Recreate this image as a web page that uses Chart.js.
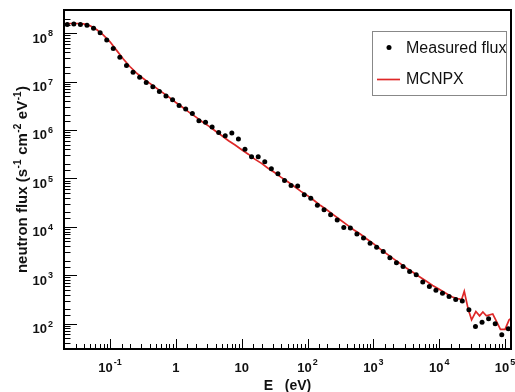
<!DOCTYPE html>
<html>
<head>
<meta charset="utf-8">
<title>neutron flux</title>
<script src="https://cdn.jsdelivr.net/npm/chart.js@4.4.0/dist/chart.umd.min.js"></script>
<style>
  html, body { margin: 0; padding: 0; background: #fff; }
  #wrap { width: 515px; height: 392px; }
</style>
</head>
<body>
<div id="wrap"><canvas id="fluxChart" width="515" height="392"></canvas></div>
<script>
// measured spectrum, E in eV, flux in s^-1 cm^-2 eV^-1
var measEnergy = [0.0224, 0.0282, 0.0355, 0.0447, 0.0562, 0.0708, 0.0891,
  0.112, 0.141, 0.178, 0.224, 0.282, 0.355, 0.447, 0.562, 0.708, 0.891,
  1.12, 1.41, 1.78, 2.24, 2.82, 3.55, 4.47, 5.62, 7.08, 8.91,
  11.2, 14.1, 17.8, 22.4, 28.2, 35.5, 44.7, 56.2, 70.8, 89.1,
  112, 141, 178, 224, 282, 355, 447, 562, 708, 891,
  1120, 1410, 1780, 2240, 2820, 3550, 4470, 5620, 7080, 8910,
  11200, 14100, 17800, 22400, 28200, 35500, 44700, 56200, 70800, 89100,
  112000];
var measFlux = [1.51e8, 1.55e8, 1.51e8, 1.46e8, 1.26e8, 1.02e8, 7.2e7,
  4.8e7, 3.16e7, 2.14e7, 1.55e7, 1.23e7, 9.5e6, 7.8e6, 6.2e6, 5.0e6, 4.2e6,
  3.2e6, 2.7e6, 2.2e6, 1.55e6, 1.45e6, 1.15e6, 8.9e5, 7.6e5, 8.7e5, 6.5e5,
  4.0e5, 2.8e5, 2.8e5, 2.2e5, 1.58e5, 1.24e5, 9.1e4, 7.1e4, 7.0e4, 4.6e4,
  3.9e4, 2.8e4, 2.24e4, 1.77e4, 1.39e4, 9.7e3, 9.4e3, 7.1e3, 5.9e3, 4.6e3,
  3.8e3, 3.1e3, 2.3e3, 1.82e3, 1.51e3, 1.2e3, 1.02e3, 724, 589, 490,
  427, 363, 316, 295, 195, 87, 107, 126, 100, 59,
  79];

// MCNPX simulation
var simEnergy = [0.02, 0.0251, 0.0316, 0.0398, 0.0501, 0.0631, 0.0794,
  0.1, 0.126, 0.158, 0.2, 0.251, 0.316, 0.398, 0.501, 0.631, 0.794,
  1, 1.26, 1.58, 2, 2.51, 3.16, 3.98, 5.01, 6.31, 7.94,
  10, 12.6, 15.8, 20, 25.1, 31.6, 39.8, 50.1, 63.1, 79.4,
  100, 126, 158, 200, 251, 316, 398, 501, 631, 794,
  1000, 1260, 1580, 2000, 2510, 3160, 3980, 5010, 6310, 7940,
  10000, 12600, 15800, 20000, 21900, 24000, 27500, 31000, 36000, 41000,
  46000, 52000, 65000, 74000, 85000, 100000, 115000, 128000];
var simFlux = [1.55e8, 1.58e8, 1.58e8, 1.55e8, 1.41e8, 1.17e8, 9.1e7,
  6.6e7, 4.4e7, 2.95e7, 2.04e7, 1.51e7, 1.17e7, 9.3e6, 7.4e6, 5.9e6, 4.7e6,
  3.7e6, 2.95e6, 2.34e6, 1.86e6, 1.48e6, 1.2e6, 9.5e5, 7.6e5, 6.0e5, 4.9e5,
  3.9e5, 3.16e5, 2.5e5, 2.04e5, 1.62e5, 1.32e5, 1.05e5, 8.5e4, 6.8e4, 5.4e4,
  4.4e4, 3.5e4, 2.75e4, 2.2e4, 1.74e4, 1.38e4, 1.1e4, 8.7e3, 7.1e3, 5.6e3,
  4.5e3, 3.5e3, 2.8e3, 2.2e3, 1.78e3, 1.41e3, 1.15e3, 933, 759, 617,
  513, 427, 355, 324, 316, 468, 200, 120, 178, 145,
  174, 145, 158, 112, 76, 76, 120, 132];

// axes (labels: text before ^ is the base, after ^ the exponent)
var xRange = [0.02, 1.23e5];
var yRange = [30, 3e8];
var xDecades = [-1, 0, 1, 2, 3, 4, 5];
var xTickText = ['10^-1', '1', '10', '10^2', '10^3', '10^4', '10^5'];
var yDecades = [2, 3, 4, 5, 6, 7, 8];
var yTickText = ['10^2', '10^3', '10^4', '10^5', '10^6', '10^7', '10^8'];
var yTitle = ['neutron flux (s', '-1', ' cm', '-2', ' eV', '-1', ')'];

var red = 'rgb(222, 40, 40)';
var fam = '"Liberation Sans", Arial, Helvetica, sans-serif';
Chart.defaults.font.family = fam;

function isDecade(v) {
  var l = Math.log10(v);
  return Math.abs(l - Math.round(l)) < 1e-6;
}

var measPts = measEnergy.map(function(e, i) { return { x: e, y: measFlux[i] }; });
var simPts = simEnergy.map(function(e, i) { return { x: e, y: simFlux[i] }; });

// ROOT style: ticks pointing inside, closed frame
var frameTicks = {
  id: 'frameTicks',
  afterDatasetsDraw: function(chart) {
    var ctx = chart.ctx, a = chart.chartArea;
    var sx = chart.scales.x, sy = chart.scales.y;
    ctx.save();
    ctx.strokeStyle = '#000';
    ctx.lineWidth = 1;
    sx.ticks.forEach(function(t) {
      var px = Math.round(sx.getPixelForValue(t.value)) + 0.5;
      if (px <= a.left + 1 || px >= a.right - 1) return;
      var len = isDecade(t.value) ? 10 : 5;
      ctx.beginPath(); ctx.moveTo(px, a.bottom); ctx.lineTo(px, a.bottom - len); ctx.stroke();
    });
    sy.ticks.forEach(function(t) {
      var py = Math.round(sy.getPixelForValue(t.value)) + 0.5;
      if (py <= a.top + 1 || py >= a.bottom - 1) return;
      var len = isDecade(t.value) ? 13 : 6.5;
      ctx.beginPath(); ctx.moveTo(a.left, py); ctx.lineTo(a.left + len, py); ctx.stroke();
    });
    ctx.lineWidth = 2;
    ctx.strokeRect(a.left, a.top, a.right - a.left, a.bottom - a.top);
    ctx.restore();
  }
};

// "10^n" with a raised exponent
function drawPower(ctx, label, x, y, align, raise) {
  var parts = label.split('^');
  ctx.font = 'bold 13px ' + fam;
  var wb = ctx.measureText(parts[0]).width;
  var we = 0;
  if (parts[1]) { ctx.font = 'bold 9px ' + fam; we = ctx.measureText(parts[1]).width + 1; }
  var x0 = align === 'center' ? x - (wb + we) / 2 : x - (wb + we);
  ctx.font = 'bold 13px ' + fam;
  ctx.fillText(parts[0], x0, y);
  if (parts[1]) {
    ctx.font = 'bold 9px ' + fam;
    ctx.fillText(parts[1], x0 + wb + 1, y - raise);
  }
}

var axisText = {
  id: 'axisText',
  afterDraw: function(chart) {
    var ctx = chart.ctx, a = chart.chartArea;
    var sx = chart.scales.x, sy = chart.scales.y;
    ctx.save();
    ctx.fillStyle = '#111';
    ctx.textAlign = 'left';
    ctx.textBaseline = 'alphabetic';
    xDecades.forEach(function(d, i) {
      drawPower(ctx, xTickText[i], sx.getPixelForValue(Math.pow(10, d)), 372, 'center', 7.5);
    });
    yDecades.forEach(function(d, i) {
      drawPower(ctx, yTickText[i], 53, sy.getPixelForValue(Math.pow(10, d)) + 9.5, 'right', 6.3);
    });
    // y title, rotated, with superscripts
    ctx.translate(26.5, (a.top + a.bottom) / 2);
    ctx.rotate(-Math.PI / 2);
    var total = 0;
    yTitle.forEach(function(s, i) {
      ctx.font = (i % 2 ? 'bold 10px ' : 'bold 15px ') + fam;
      total += ctx.measureText(s).width + (i % 2 ? 1 : 0);
    });
    var x = -total / 2;
    yTitle.forEach(function(s, i) {
      ctx.font = (i % 2 ? 'bold 10px ' : 'bold 15px ') + fam;
      if (i % 2) {
        ctx.fillText(s, x + 0.5, -6);
        x += ctx.measureText(s).width + 1;
      } else {
        ctx.fillText(s, x, 0);
        x += ctx.measureText(s).width;
      }
    });
    ctx.restore();
  }
};

// legend box in the upper right corner
var boxLegend = {
  id: 'boxLegend',
  afterDraw: function(chart) {
    var ctx = chart.ctx;
    var ds = chart.data.datasets;
    ctx.save();
    ctx.fillStyle = '#fff';
    ctx.fillRect(372, 31, 135, 64);
    ctx.strokeStyle = '#888';
    ctx.lineWidth = 1;
    ctx.strokeRect(372.5, 31.5, 134, 64);
    ctx.font = '16px ' + fam;
    ctx.textBaseline = 'middle';
    ctx.fillStyle = '#000';
    ctx.beginPath(); ctx.arc(389, 47.5, 2.5, 0, Math.PI * 2); ctx.fill();
    ctx.fillStyle = '#111';
    ctx.fillText(ds[0].label, 406, 49);
    ctx.strokeStyle = ds[1].borderColor;
    ctx.lineWidth = 1.7;
    ctx.beginPath(); ctx.moveTo(377, 79.5); ctx.lineTo(400, 79.5); ctx.stroke();
    ctx.fillText(ds[1].label, 406, 80);
    ctx.restore();
  }
};

var ctx1 = document.getElementById('fluxChart').getContext('2d');
var fluxChart = new Chart(ctx1, {
  type: 'line',
  data: {
    datasets: [{
      label: 'Measured flux',
      data: measPts,
      showLine: false,
      pointRadius: 2.5,
      pointBorderWidth: 0,
      pointBackgroundColor: '#000',
      borderColor: '#000',
      backgroundColor: '#000'
    }, {
      label: 'MCNPX',
      data: simPts,
      showLine: true,
      borderColor: red,
      borderWidth: 1.7,
      pointRadius: 0,
      tension: 0,
      fill: false
    }]
  },
  options: {
    responsive: false,
    animation: false,
    events: [],
    layout: { padding: { top: 10, right: 4, left: 0, bottom: 0 } },
    plugins: {
      legend: { display: false },
      tooltip: { enabled: false }
    },
    scales: {
      x: {
        type: 'logarithmic',
        min: xRange[0],
        max: xRange[1],
        grid: { display: false },
        border: { display: false },
        ticks: { display: false, autoSkip: false },
        title: {
          display: true,
          text: 'E   (eV)',
          color: '#111',
          font: { size: 14, weight: 'bold' },
          padding: { top: 0, bottom: -3 }
        },
        afterFit: function(s) { s.height = 43; s.paddingLeft = 0; s.paddingRight = 0; }
      },
      y: {
        type: 'logarithmic',
        min: yRange[0],
        max: yRange[1],
        grid: { display: false },
        border: { display: false },
        ticks: { display: false, autoSkip: false },
        afterFit: function(s) { s.width = 64; s.paddingTop = 0; s.paddingBottom = 0; }
      }
    }
  },
  plugins: [frameTicks, axisText, boxLegend]
});
</script>
</body>
</html>
